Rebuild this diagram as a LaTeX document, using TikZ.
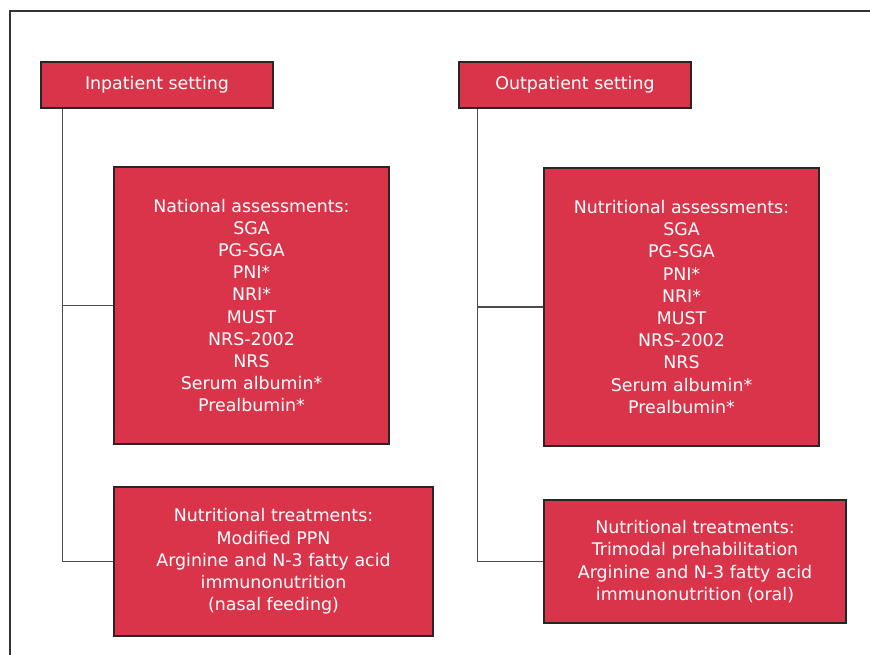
\documentclass[tikz,border=0pt]{standalone}
\usepackage{fontspec}
\setmainfont{DejaVu Sans}
\definecolor{boxred}{RGB}{217,52,73}
\begin{document}
\begin{tikzpicture}[x=1pt,y=-1pt,
    box/.style={draw=black!85,line width=1.3pt,fill=boxred,text=white,inner sep=0pt,
      align=center,font=\fontsize{17.4}{22.2}\selectfont},
    link/.style={draw=black!70,line width=1.4pt}]
      \useasboundingbox (0,0) rectangle (870,655);
      \draw[black!80,line width=1.2pt] (10,655) -- (10,11) -- (870,11);
      \node[box,minimum width=232pt,minimum height=46pt] (inp) at (157,85) {Inpatient setting};
      \node[box,minimum width=232pt,minimum height=46pt] (outp) at (575,85) {Outpatient setting};
      \node[box,minimum width=275pt,minimum height=277pt] (natl) at (251.5,305.5)
	{National assessments:\\SGA\\PG-SGA\\PNI*\\NRI*\\MUST\\NRS-2002\\NRS\\Serum albumin*\\Prealbumin*};
      \node[box,minimum width=275pt,minimum height=278pt] (nutr) at (681.5,307)
	{Nutritional assessments:\\SGA\\PG-SGA\\PNI*\\NRI*\\MUST\\NRS-2002\\NRS\\Serum albumin*\\Prealbumin*};
      \node[box,minimum width=319pt,minimum height=149pt] (ltreat) at (273.5,561.5)
	{Nutritional treatments:\\Modified PPN\\Arginine and N-3 fatty acid\\immunonutrition\\(nasal feeding)};
      \node[box,minimum width=302pt,minimum height=123pt] (rtreat) at (695,561.5)
	{Nutritional treatments:\\Trimodal prehabilitation\\Arginine and N-3 fatty acid\\immunonutrition (oral)};
      \foreach \a/\b/\s in {inp/natl/22, inp/ltreat/22, outp/nutr/19, outp/rtreat/19} {
	\draw[link] ([xshift=\s pt]\a.south west) |- (\b.west);
      };
    \end{tikzpicture}
\end{document}
